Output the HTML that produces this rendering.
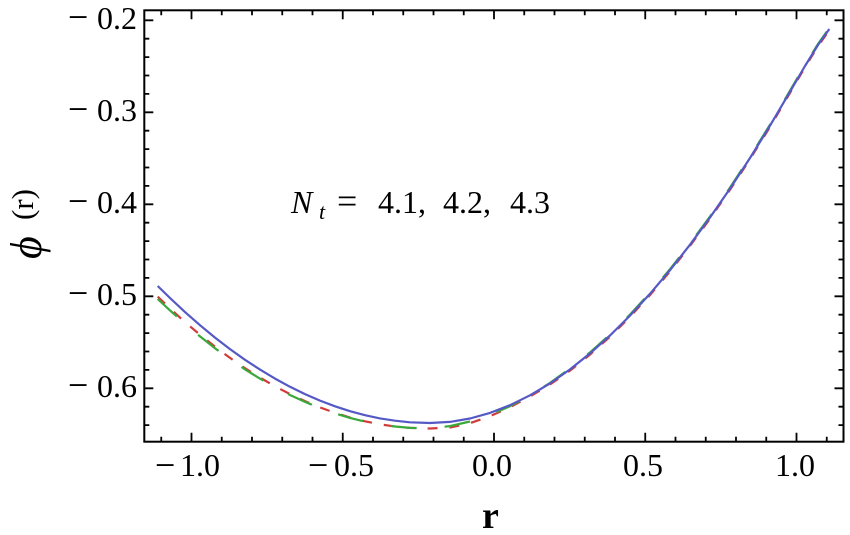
<!DOCTYPE html>
<html><head><meta charset="utf-8"><style>
html,body{margin:0;padding:0;background:#fff;}
svg{display:block;}
text{font-family:"Liberation Serif","DejaVu Serif",serif;fill:#000;}
</style></head><body>
<svg width="850" height="535" viewBox="0 0 850 535" xmlns="http://www.w3.org/2000/svg">
<rect x="0" y="0" width="850" height="535" fill="#fff"/>
<!-- curves -->
<g fill="none" stroke-linejoin="round">
<polyline stroke="#d23b3b" stroke-width="2.2" stroke-dasharray="10 12" points="157.7,296.7 170,308.4 185,322.1 200,334.7 215,346.7 230,357.9 245,368.2 260,377.6 275,386.3 290,394.1 305,401.1 320,407.4 335,412.8 350,417.5 365,421.3 380,424.3 395,426.5 410,427.9 430,428.5 450,427.5 470,423.2 490,416.2 510,407.2 530,396.5 550,384.5 570,370.6 590,354.6 610,336.7 630,316.8 650,295.0 670,271.4 690,245.9 710,218.7 730,189.8 750,159.2 770,126.9 790,92.9 805,67.2 818,46.2 829.3,30.2"/>
<polyline stroke="#3aa83a" stroke-width="2.2" stroke-dasharray="26 28" points="157.7,299.0 170,310.4 185,323.9 200,336.4 215,348.2 230,359.2 245,369.4 260,378.7 275,387.3 290,395.0 305,401.9 320,408.0 335,413.3 350,417.9 365,421.6 380,424.5 395,426.5 410,427.9 430,428.3 450,426.1 470,421.5 490,414.9 510,406.2 530,395.5 550,382.9 570,368.4 590,352.4 610,334.5 630,314.6 650,292.8 670,269.2 690,243.7 710,216.5 730,187.6 750,157.0 770,124.7 790,90.7 805,65.0 818,44.0 829.3,28.0"/>
<polyline stroke="#5459c6" stroke-width="2.2" points="157.7,286.0 170,298.0 185,312.1 200,325.2 215,337.6 230,349.1 245,359.8 260,369.6 275,378.6 290,386.8 305,394.1 320,400.6 335,406.3 350,411.2 365,415.2 380,418.4 395,420.7 410,422.3 430,423.0 450,421.9 470,418.5 490,412.9 510,405.2 530,395.3 550,383.4 570,369.4 590,353.4 610,335.5 630,315.6 650,293.8 670,270.2 690,244.7 710,217.5 730,188.6 750,158.0 770,125.7 790,91.7 805,66 818,45 829.3,29"/>
</g>
<!-- frame -->
<rect x="144.3" y="10.3" width="699.2" height="431.4" fill="none" stroke="#000" stroke-width="2"/>
<g stroke="#000" stroke-width="1.8">
<path d="M144.3 20.3H153.3M144.3 38.7H149.3M144.3 57.1H149.3M144.3 75.5H149.3M144.3 93.9H149.3M144.3 112.3H153.3M144.3 130.7H149.3M144.3 149.1H149.3M144.3 167.5H149.3M144.3 185.9H149.3M144.3 204.3H153.3M144.3 222.7H149.3M144.3 241.1H149.3M144.3 259.5H149.3M144.3 277.9H149.3M144.3 296.3H153.3M144.3 314.7H149.3M144.3 333.1H149.3M144.3 351.5H149.3M144.3 369.9H149.3M144.3 388.3H153.3M144.3 406.7H149.3M144.3 425.1H149.3"/>
<path d="M843.5 20.3H834.5M843.5 38.7H838.5M843.5 57.1H838.5M843.5 75.5H838.5M843.5 93.9H838.5M843.5 112.3H834.5M843.5 130.7H838.5M843.5 149.1H838.5M843.5 167.5H838.5M843.5 185.9H838.5M843.5 204.3H834.5M843.5 222.7H838.5M843.5 241.1H838.5M843.5 259.5H838.5M843.5 277.9H838.5M843.5 296.3H834.5M843.5 314.7H838.5M843.5 333.1H838.5M843.5 351.5H838.5M843.5 369.9H838.5M843.5 388.3H834.5M843.5 406.7H838.5M843.5 425.1H838.5"/>
<path d="M161.25 441.7V436.7M191.5 441.7V432.7M221.75 441.7V436.7M252 441.7V436.7M282.25 441.7V436.7M312.5 441.7V436.7M342.75 441.7V432.7M373 441.7V436.7M403.25 441.7V436.7M433.5 441.7V436.7M463.75 441.7V436.7M494 441.7V432.7M524.25 441.7V436.7M554.5 441.7V436.7M584.75 441.7V436.7M615 441.7V436.7M645.25 441.7V432.7M675.5 441.7V436.7M705.75 441.7V436.7M736 441.7V436.7M766.25 441.7V436.7M796.5 441.7V432.7M826.75 441.7V436.7"/>
<path d="M161.25 10.3V15.3M191.5 10.3V19.3M221.75 10.3V15.3M252 10.3V15.3M282.25 10.3V15.3M312.5 10.3V15.3M342.75 10.3V19.3M373 10.3V15.3M403.25 10.3V15.3M433.5 10.3V15.3M463.75 10.3V15.3M494 10.3V19.3M524.25 10.3V15.3M554.5 10.3V15.3M584.75 10.3V15.3M615 10.3V15.3M645.25 10.3V19.3M675.5 10.3V15.3M705.75 10.3V15.3M736 10.3V15.3M766.25 10.3V15.3M796.5 10.3V19.3M826.75 10.3V15.3"/>
</g>
<!-- y tick labels -->
<g font-size="32">
<text x="68" y="29" font-size="36">−</text><text x="137" y="29" text-anchor="end">0.2</text>
<text x="68" y="121" font-size="36">−</text><text x="137" y="121" text-anchor="end">0.3</text>
<text x="68" y="213" font-size="36">−</text><text x="137" y="213" text-anchor="end">0.4</text>
<text x="68" y="305" font-size="36">−</text><text x="137" y="305" text-anchor="end">0.5</text>
<text x="68" y="397" font-size="36">−</text><text x="137" y="397" text-anchor="end">0.6</text>
</g>
<!-- x tick labels -->
<g font-size="32">
<text x="155" y="477" font-size="36">−</text><text x="180" y="476">1.0</text>
<text x="308" y="477" font-size="36">−</text><text x="334" y="476">0.5</text>
<text x="492" y="476" text-anchor="middle">0.0</text>
<text x="643" y="476" text-anchor="middle">0.5</text>
<text x="795" y="476" text-anchor="middle">1.0</text>
</g>
<!-- axis labels -->
<text x="482" y="528" font-size="38" font-weight="bold">r</text>
<text transform="translate(41,259) rotate(-90)" font-size="44" font-style="italic">ϕ<tspan x="39" dy="-8" font-size="31" font-style="normal">(r)</tspan></text>
<!-- annotation -->
<g font-size="32">
<text x="291" y="213" font-style="italic">N</text>
<text x="319" y="219" font-size="22" font-style="italic">t</text>
<text x="337" y="213" font-size="36">=</text>
<text x="378" y="213">4.1,</text>
<text x="443" y="213">4.2,</text>
<text x="510" y="213">4.3</text>
</g>
</svg>
</body></html>
